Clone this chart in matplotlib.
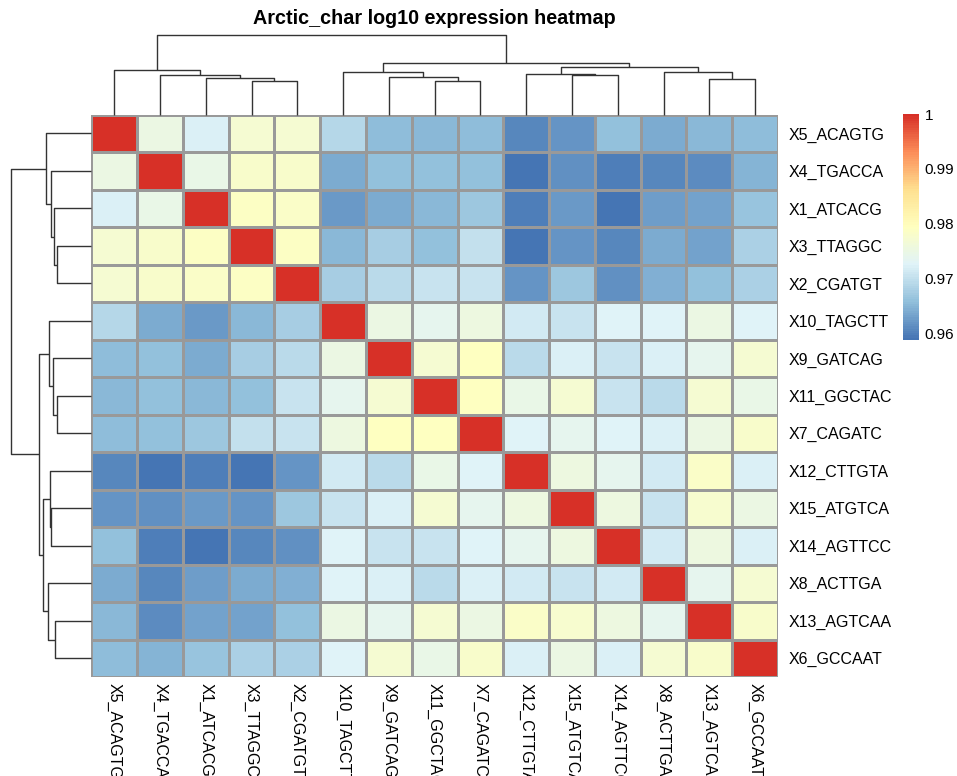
import numpy as np
import matplotlib
matplotlib.use("Agg")
import matplotlib.pyplot as plt
from matplotlib.colors import LinearSegmentedColormap, Normalize
from matplotlib.cm import ScalarMappable

plt.rcParams['font.family'] = ['Liberation Sans', 'DejaVu Sans']

title = "Arctic_char log10 expression heatmap"

labels = ["X5_ACAGTG", "X4_TGACCA", "X1_ATCACG", "X3_TTAGGC", "X2_CGATGT",
          "X10_TAGCTT", "X9_GATCAG", "X11_GGCTAC", "X7_CAGATC", "X12_CTTGTA",
          "X15_ATGTCA", "X14_AGTTCC", "X8_ACTTGA", "X13_AGTCAA", "X6_GCCAAT"]

corr = [
    [1.0, .975, .972, .977, .977, .969, .9657, .965, .9655, .9605, .9617, .966, .964, .965, .9655],
    [.975, 1.0, .9745, .978, .978, .964, .966, .966, .9662, .9588, .9613, .960, .9607, .961, .9648],
    [.972, .9745, 1.0, .9788, .9782, .9625, .964, .9652, .967, .960, .9625, .959, .9628, .963, .9663],
    [.977, .978, .9788, 1.0, .9788, .9652, .9675, .9662, .970, .959, .962, .9608, .964, .963, .968],
    [.977, .978, .9782, .9788, 1.0, .9675, .9695, .9705, .9705, .962, .9667, .9615, .9645, .966, .968],
    [.969, .964, .9625, .9652, .9675, 1.0, .975, .974, .9755, .9715, .9705, .9725, .9725, .9752, .9725],
    [.9657, .966, .964, .9675, .9695, .975, 1.0, .977, .979, .9695, .9722, .9705, .972, .974, .977],
    [.965, .966, .9652, .9662, .9705, .974, .977, 1.0, .979, .9745, .977, .9705, .9695, .977, .9745],
    [.9655, .9662, .967, .970, .9705, .9755, .979, .979, 1.0, .9725, .974, .9725, .972, .975, .978],
    [.9605, .9588, .960, .959, .962, .9715, .9695, .9745, .9725, 1.0, .9755, .974, .9712, .9785, .972],
    [.9617, .9613, .9625, .962, .9667, .9705, .9722, .977, .974, .9755, 1.0, .9755, .9705, .9775, .975],
    [.966, .960, .959, .9608, .9615, .9725, .9705, .9705, .9725, .974, .9755, 1.0, .9715, .9755, .972],
    [.964, .9607, .9628, .964, .9645, .9725, .972, .9695, .972, .9712, .9705, .9715, 1.0, .974, .977],
    [.965, .961, .963, .963, .966, .9752, .974, .977, .975, .9785, .9775, .9755, .974, 1.0, .978],
    [.9655, .9648, .9663, .968, .968, .9725, .977, .9745, .978, .972, .975, .972, .977, .978, 1.0],
]

# hierarchical clustering merges (leaf indices 0..14, new clusters 15..)
merge_left = [3, 2, 1, 0, 7, 6, 5, 10, 9, 13, 12, 23, 21, 18]
merge_right = [4, 15, 16, 17, 8, 19, 20, 11, 22, 14, 24, 25, 26, 27]
merge_height = [33.8, 36.5, 39.5, 44.2, 33.8, 37.3, 42.2, 39.5, 40.7, 36.0, 42.8, 47.3, 51.3, 79.5]

cbar_ticks = [0.96, 0.97, 0.98, 0.99, 1.0]
cbar_ticklabels = ["0.96", "0.97", "0.98", "0.99", "1"]

data = np.array(corr)
n = len(labels)
vmin, vmax = data.min(), data.max()

palette = ["#4575B4", "#91BFDB", "#E0F3F8", "#FFFFBF", "#FEE090", "#FC8D59", "#D73027"]
cmap = LinearSegmentedColormap.from_list("rdylbu_r", palette, N=100)

W, H = 957, 776
fig = plt.figure(figsize=(W / 100, H / 100), dpi=100)


def fx(px):
    return px / W


def fy(py):
    return 1 - py / H


hm_l, hm_r, hm_t, hm_b = 91.3, 778.0, 114.7, 677.0
ax = fig.add_axes([fx(hm_l), fy(hm_b), fx(hm_r - hm_l), (hm_b - hm_t) / H])
ax.pcolormesh(np.arange(n + 1), np.arange(n + 1), data, cmap=cmap, vmin=vmin, vmax=vmax,
              edgecolors="#999999", linewidth=0.75)
ax.set_xlim(0, n)
ax.set_ylim(n, 0)
for s in ax.spines.values():
    s.set_visible(False)
ax.set_yticks(np.arange(n) + 0.5)
ax.set_yticklabels(labels, fontsize=11.5)
ax.yaxis.tick_right()
ax.set_xticks(np.arange(n) + 0.5)
ax.set_xticklabels(labels, fontsize=11.5, rotation=270, ha="center", va="top")
ax.tick_params(axis="y", length=0, pad=7.5)
ax.tick_params(axis="x", length=0, pad=4.5)


def dendro_segments(nleaf, left, right, height):
    pos = {i: i + 0.5 for i in range(nleaf)}
    ht = {i: 0.0 for i in range(nleaf)}
    segs = []
    for k, (a, b, h) in enumerate(zip(left, right, height)):
        segs.append(([pos[a], pos[a], pos[b], pos[b]], [ht[a], h, h, ht[b]]))
        pos[nleaf + k] = (pos[a] + pos[b]) / 2
        ht[nleaf + k] = h
    return segs


segs = dendro_segments(n, merge_left, merge_right, merge_height)
hmax = max(merge_height)

# top dendrogram
axt = fig.add_axes([fx(hm_l), fy(hm_t), fx(hm_r - hm_l), (hm_t - 35.0) / H])
for xs, ys in segs:
    axt.plot(xs, ys, color="#333333", lw=1.0, clip_on=False, solid_capstyle="butt")
axt.set_xlim(0, n)
axt.set_ylim(0, hmax)
axt.axis("off")

# left dendrogram
axl = fig.add_axes([fx(10.7), fy(hm_b), fx(hm_l - 10.7), (hm_b - hm_t) / H])
for xs, ys in segs:
    axl.plot(ys, xs, color="#333333", lw=1.0, clip_on=False, solid_capstyle="butt")
axl.set_ylim(n, 0)
axl.set_xlim(hmax, 0)
axl.axis("off")

# title
fig.text(fx((hm_l + hm_r) / 2), fy(19), title, fontsize=14.2, fontweight="bold",
         ha="center", va="center")

# colour legend
cax = fig.add_axes([fx(903), fy(340), fx(16), 226 / H])
sm = ScalarMappable(norm=Normalize(vmin=vmin, vmax=vmax), cmap=cmap)
cb = fig.colorbar(sm, cax=cax)
cb.outline.set_visible(False)
cb.set_ticks(cbar_ticks)
cb.set_ticklabels(cbar_ticklabels)
cax.tick_params(length=0, pad=4, labelsize=11)

fig.savefig("out.png", dpi=100)
